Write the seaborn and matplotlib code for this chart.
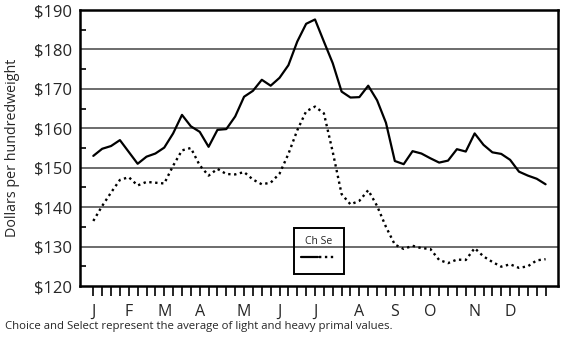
import matplotlib
matplotlib.use("Agg")
import matplotlib.pyplot as plt
import seaborn as sns
import pandas as pd
from matplotlib.ticker import MultipleLocator, FuncFormatter

# weekly prices, dollars per hundredweight
weeks = list(range(52))
choice = [153.0, 154.8, 155.5, 157.0, 154.0, 151.0, 152.8, 153.6, 155.1, 158.7,
          163.4, 160.5, 159.1, 155.3, 159.6, 159.8, 163.0, 168.0, 169.5, 172.3,
          170.8, 172.8, 176.0, 182.0, 186.5, 187.6, 182.0, 176.5, 169.3, 167.8,
          167.9, 170.8, 167.1, 161.4, 151.7, 150.9, 154.2, 153.6, 152.4, 151.3,
          151.8, 154.7, 154.1, 158.7, 155.8, 153.9, 153.5, 152.0, 149.0, 148.0,
          147.2, 145.8]
select = [136.5, 140.3, 143.7, 146.9, 147.6, 145.5, 146.4, 146.2, 146.0, 150.5,
          154.4, 155.0, 150.6, 148.0, 149.7, 148.4, 148.3, 148.9, 147.0, 145.8,
          146.2, 148.5, 153.5, 159.5, 164.3, 165.5, 163.8, 154.0, 143.3, 140.7,
          141.6, 144.3, 140.3, 135.0, 130.5, 129.4, 130.2, 129.6, 129.4, 126.6,
          125.8, 126.7, 126.6, 129.6, 127.5, 126.1, 124.9, 125.5, 124.6, 125.0,
          126.5, 126.8]
month_labels = ["J", "F", "M", "A", "M", "J", "J", "A", "S", "O", "N", "D"]
month_weeks = [0, 4, 8, 12, 17, 21, 25, 30, 34, 38, 43, 47]

df = pd.DataFrame({"week": weeks, "Choice": choice, "Select": select})

sns.set_style("white")
plt.rcParams["font.family"] = ["Open Sans", "DejaVu Sans"]

fig = plt.figure(figsize=(5.63, 3.39), dpi=100)
ax = fig.add_axes([80 / 563, 1 - 286 / 339, 478 / 563, 276 / 339])

sns.lineplot(data=df, x="week", y="Choice", ax=ax, color="black", lw=1.6,
             label="_c")
sns.lineplot(data=df, x="week", y="Select", ax=ax, color="black", lw=1.7,
             linestyle=(0, (1, 1.5)), label="_s")

ax.set_xlim(-1.5, 52.4)
ax.set_ylim(120, 190)

# gridlines
for v in range(130, 190, 10):
    ax.axhline(v, color="#444444", lw=1.1, zorder=0)

for s in ax.spines.values():
    s.set_color("black")
    s.set_linewidth(1.8)

# y axis
ax.yaxis.set_major_locator(MultipleLocator(10))
ax.yaxis.set_minor_locator(MultipleLocator(5))
ax.yaxis.set_major_formatter(FuncFormatter(lambda v, p: f"${v:.0f}"))
ax.tick_params(axis="y", which="major", length=0, pad=6, labelsize=12,
               left=True)
ax.tick_params(axis="y", which="minor", direction="in", length=4, width=1.2,
               left=True, color="black")
ax.set_ylabel("Dollars per hundredweight", fontsize=10.3)
ax.yaxis.set_label_coords(-0.126, 0.5)

# x axis: a tick every week, month letters under some
ax.set_xticks(weeks)
xlabels = [""] * len(weeks)
for w, m in zip(month_weeks, month_labels):
    xlabels[w] = m
ax.set_xticklabels(xlabels)
ax.tick_params(axis="x", which="major", direction="out", length=7, width=1.2,
               color="black", bottom=True, pad=6, labelsize=11.5)
ax.set_xlabel("")

# legend: title over the two line samples
h_c, = ax.plot([], [], color="black", lw=1.6)
h_s, = ax.plot([], [], color="black", lw=1.7, linestyle=(0, (1, 1.5)))
leg = ax.legend(handles=[h_c, h_s], labels=["", ""], title="Ch Se", ncol=2,
                loc="center", bbox_to_anchor=(0.499, 0.127), handlelength=1.2,
                handletextpad=0.0, columnspacing=0.1, fancybox=False,
                facecolor="none", edgecolor="black", framealpha=1,
                borderpad=0.55, labelspacing=0.3, title_fontsize=7.5)
leg.get_frame().set_linewidth(1.4)

fig.text(0.009, 1 - 327 / 339,
         "Choice and Select represent the average of light and heavy primal values.",
         fontsize=8.2, va="center", ha="left")

fig.savefig("out.png", dpi=100)
plt.close(fig)
